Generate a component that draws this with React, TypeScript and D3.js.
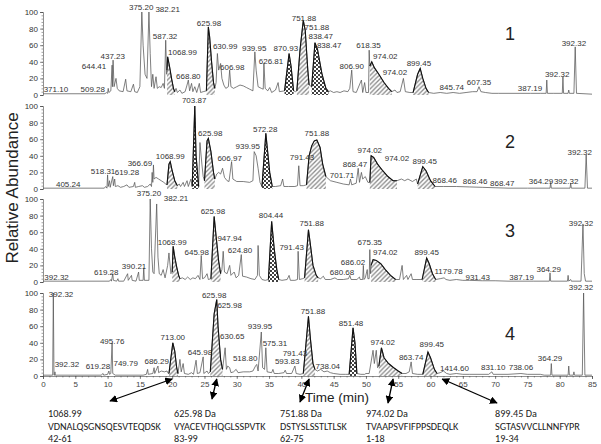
import * as d3 from "d3";
import { useEffect, useRef } from "react";

type Pt = [number, number];

// chromatogram traces, [time (min), relative abundance %]
const run1: Pt[] = [
  [0, 1.5], [9.6, 1.5], [9.8, 3], [10.0, 2], [10.1, 8], [10.2, 3], [10.5, 5], [10.7, 36], [10.75, 10], [10.85, 42], [11.0, 10],
  [11.3, 20], [11.5, 8], [11.8, 5], [12.4, 4], [12.8, 19], [13.0, 5], [13.6, 4], [14.0, 13], [14.2, 4], [14.6, 3], [15.0, 10],
  [15.3, 100], [15.5, 60], [15.8, 25], [16.1, 20], [16.4, 100], [16.6, 50], [16.8, 10], [17.0, 25], [17.2, 8], [17.5, 22],
  [17.7, 8], [18.0, 10], [18.3, 9], [18.6, 14], [18.8, 8], [19.0, 66], [19.15, 25], [19.2, 30], [19.3, 46], [19.6, 34],
  [19.9, 20], [20.2, 8], [20.4, 4], [20.6, 8], [20.8, 3], [21.2, 6], [21.5, 2], [22.0, 4], [22.3, 12], [22.5, 18], [22.7, 5],
  [23.0, 14], [23.2, 4], [23.5, 10], [23.8, 3], [24.2, 14], [24.4, 3], [24.8, 4], [25.3, 5], [25.6, 82], [25.8, 70], [26.1, 40],
  [26.4, 15], [26.6, 8], [26.8, 15], [27.0, 50], [27.2, 30], [27.5, 38], [27.7, 20], [28.0, 12], [28.3, 8], [28.7, 10],
  [28.9, 30], [29.1, 10], [29.5, 8], [30.0, 10], [30.5, 12], [31.0, 11], [31.5, 9], [32.0, 7], [32.5, 5], [32.8, 52], [33.0, 30],
  [33.3, 10], [33.8, 8], [34.1, 7], [34.2, 38], [34.4, 8], [34.8, 5], [35.1, 9], [35.4, 3], [36.0, 6], [36.4, 15], [36.6, 4],
  [37.4, 5], [38.1, 50], [38.4, 35], [38.8, 5], [39.1, 4], [39.3, 5], [39.8, 55], [40.3, 90], [40.6, 78], [41.0, 30], [41.2, 12],
  [41.6, 10], [42.1, 63], [42.5, 55], [43.2, 25], [43.8, 8], [44.2, 4], [44.5, 5], [45, 3], [45.5, 4], [46, 3], [46.6, 5],
  [47.2, 4], [47.5, 8], [47.8, 30], [48.0, 4], [48.5, 3], [49.3, 18], [49.5, 3], [49.8, 15], [50.0, 3], [50.4, 3], [50.5, 54],
  [50.6, 35], [50.9, 40], [51.3, 33], [52.0, 25], [52.8, 15], [53.5, 8], [54.0, 4], [54.5, 6], [54.8, 3], [55.3, 4], [55.8, 20],
  [56.1, 4], [56.8, 3], [57.3, 3], [58.0, 25], [58.4, 32], [58.8, 20], [59.3, 8], [59.7, 3], [60.5, 2], [61.5, 3], [62.5, 2],
  [63.5, 3], [64.5, 2], [65.5, 3], [66.5, 4], [67.2, 4], [67.5, 10], [67.8, 4], [68.5, 3], [69.5, 2], [70.5, 2], [72, 2],
  [74, 2], [75.5, 2], [77.0, 2], [77.9, 2], [78.0, 18], [78.1, 2], [79.0, 2], [80.4, 2], [80.5, 22], [80.6, 2], [81.3, 2],
  [81.4, 6], [81.5, 2], [82.2, 2], [82.4, 58], [82.6, 2], [85, 1],
];
const run2: Pt[] = [
  [0, 1], [9.5, 1], [9.7, 3], [9.9, 1], [10.0, 17], [10.1, 3], [10.3, 10], [10.4, 2], [10.8, 15], [10.9, 4], [11.1, 12],
  [11.2, 3], [11.6, 4], [12.0, 2], [12.5, 3], [13.0, 5], [13.3, 2], [14.0, 3], [14.2, 8], [14.3, 2], [14.8, 3], [15.4, 4],
  [15.7, 2], [16.2, 3], [16.6, 6], [16.8, 3], [16.9, 20], [17.0, 8], [17.1, 29], [17.2, 12], [17.5, 14], [17.9, 12], [18.3, 10],
  [18.7, 8], [19.0, 6], [19.2, 5], [19.5, 30], [19.7, 33], [20.0, 22], [20.4, 10], [20.8, 4], [21.1, 6], [21.3, 3], [21.7, 8],
  [21.9, 3], [22.3, 10], [22.5, 3], [22.9, 12], [23.1, 3], [23.5, 100], [23.7, 40], [24.1, 3], [24.3, 56], [24.6, 30],
  [24.8, 15], [25.0, 10], [25.4, 58], [25.6, 61], [26.0, 45], [26.4, 20], [26.6, 12], [26.9, 18], [27.2, 20], [27.5, 18],
  [27.8, 25], [28.1, 14], [28.5, 10], [28.8, 9], [29.2, 33], [29.4, 12], [30, 9], [31, 9], [32, 8], [32.5, 10], [32.7, 45],
  [33.0, 40], [33.3, 25], [33.6, 8], [33.9, 3], [34.5, 67], [35.1, 20], [35.5, 3], [36, 3], [36.8, 4], [37.1, 12], [37.3, 3],
  [38, 3], [39, 3], [39.4, 4], [39.6, 28], [39.8, 4], [40.3, 4], [40.8, 5], [41.2, 40], [41.6, 52], [42.0, 58], [42.4, 59],
  [42.9, 50], [43.3, 30], [43.8, 15], [44.5, 10], [45.5, 8], [46.5, 6], [47.4, 5], [47.6, 12], [47.8, 5], [48.5, 7], [48.8, 25],
  [49.0, 8], [49.3, 20], [49.5, 12], [49.9, 15], [50.3, 8], [50.6, 8], [50.8, 40], [51.2, 38], [51.8, 30], [52.6, 22],
  [53.4, 15], [54.2, 10], [54.8, 10], [55.5, 12], [56.0, 10], [56.5, 12], [57.2, 9], [57.8, 12], [58.0, 6], [58.8, 27],
  [59.3, 22], [60.0, 10], [60.7, 3], [62, 3], [64, 3], [66, 2.5], [68, 2], [70, 1.5], [72, 1], [75, 1], [78.5, 1], [78.6, 8],
  [78.7, 1], [81.6, 1], [81.7, 7], [81.8, 1], [83.9, 1], [84.1, 41], [84.3, 1], [85, 1],
];
const run3: Pt[] = [
  [0, 1], [10.3, 1], [10.5, 3], [10.6, 1], [10.8, 10], [10.9, 2], [11.4, 1], [11.6, 4], [11.7, 1], [12.5, 1], [13.1, 10],
  [13.2, 2], [13.7, 8], [13.8, 2], [14.4, 1], [14.8, 12], [14.9, 2], [15.5, 2], [15.6, 17], [15.7, 2], [16.4, 2], [16.6, 100],
  [16.8, 40], [17.0, 12], [17.2, 10], [17.6, 94], [17.8, 30], [18.0, 10], [18.3, 8], [18.6, 15], [18.9, 5], [19.3, 20],
  [19.5, 35], [19.8, 10], [20.0, 12], [20.15, 43], [20.4, 30], [20.7, 18], [21.0, 8], [21.2, 4], [21.6, 5], [22.0, 3],
  [22.4, 6], [22.8, 3], [23.2, 5], [23.6, 4], [24.0, 8], [24.3, 3], [24.5, 32], [24.7, 4], [25.0, 5], [25.4, 10], [25.6, 3],
  [26.0, 4], [26.5, 79], [26.8, 55], [27.2, 25], [27.5, 10], [27.7, 15], [27.9, 37], [28.1, 12], [28.5, 10], [28.9, 20],
  [29.1, 8], [29.6, 12], [29.9, 5], [30.3, 8], [30.7, 33], [30.9, 7], [31.5, 6], [32.2, 4], [32.8, 3], [33.2, 8], [33.3, 44],
  [33.5, 8], [33.9, 3], [34.4, 2], [34.9, 3], [35.4, 73], [35.8, 40], [36.2, 15], [36.5, 3], [37.0, 2], [37.8, 3], [38.1, 8],
  [38.3, 2], [39.0, 2], [39.4, 3], [39.5, 37], [39.7, 3], [40.2, 4], [40.5, 5], [41.1, 63], [41.4, 45], [41.8, 20], [42.3, 8],
  [42.6, 5], [43, 4], [43.4, 7], [43.7, 3], [44.5, 3], [45.2, 5], [45.6, 3], [46.5, 3], [47.3, 4], [47.5, 8], [47.7, 3],
  [48.6, 3], [49.0, 6], [49.1, 3], [49.5, 3], [49.6, 20], [49.7, 3], [49.9, 5], [50.2, 15], [50.3, 4], [50.5, 4], [50.6, 39],
  [50.7, 10], [50.8, 20], [51.1, 27], [51.6, 26], [52.3, 22], [53.0, 15], [53.8, 8], [54.6, 3], [55.2, 3], [55.6, 20],
  [55.8, 3], [56.3, 8], [56.5, 3], [57.0, 10], [57.2, 3], [57.9, 3], [58.7, 3], [59.4, 29], [59.8, 22], [60.3, 10], [60.8, 3],
  [61.5, 4], [62.1, 5], [62.4, 3], [63, 2], [64, 3], [65, 2], [66, 2], [68, 1.5], [70, 1.5], [72, 1], [76, 1], [78.4, 1],
  [78.5, 11], [78.6, 1], [81.2, 1], [81.3, 8], [81.4, 1], [81.7, 3], [81.8, 1], [83.3, 1], [83.6, 70], [83.8, 10], [84.0, 1],
  [85, 1],
];
const run4: Pt[] = [
  [0, 1], [1.5, 1], [1.6, 100], [1.7, 1], [1.8, 1], [1.85, 5], [1.9, 1], [9.0, 1], [9.3, 3], [9.4, 1], [10.0, 2], [10.2, 6],
  [10.3, 2], [10.5, 3], [10.7, 40], [10.8, 3], [11.2, 1], [15.5, 1], [16.0, 2], [16.2, 8], [16.3, 2], [17.0, 3], [17.2, 10],
  [17.3, 3], [17.8, 12], [17.9, 4], [18.3, 6], [18.8, 5], [19.2, 6], [19.4, 3], [19.5, 3], [20.1, 40], [20.4, 30], [20.7, 10],
  [20.9, 3], [21.2, 20], [21.4, 5], [21.7, 15], [21.9, 3], [22.5, 2], [23.0, 4], [23.3, 2], [23.7, 19], [23.9, 3], [24.3, 4],
  [24.8, 23], [24.9, 3], [25.4, 6], [25.6, 3], [25.9, 5], [26.5, 75], [26.9, 92], [27.1, 60], [27.5, 20], [27.8, 8], [28.2, 34],
  [28.4, 8], [28.6, 12], [28.9, 10], [29.1, 4], [29.5, 5], [29.9, 8], [30.2, 4], [31, 5], [32, 5], [32.5, 6], [32.9, 12],
  [33.1, 14], [33.3, 6], [33.8, 53], [34.0, 10], [34.3, 8], [34.5, 34], [34.7, 5], [35.4, 4], [35.6, 8], [35.8, 3], [36.5, 3],
  [37.3, 4], [37.5, 7], [37.7, 3], [38.5, 3], [39.0, 12], [39.2, 3], [39.8, 2], [40.3, 3], [41.1, 72], [41.4, 45], [41.8, 15],
  [42.1, 8], [42.5, 6], [43, 8], [43.5, 5], [44, 6], [44.5, 4], [45, 3], [46, 2], [46.8, 2], [47.4, 2], [48.0, 58], [48.3, 40],
  [48.6, 3], [49.2, 2], [49.8, 2], [50, 3], [50.5, 3], [51.1, 31], [51.3, 15], [51.6, 31], [51.8, 10], [52.0, 12], [52.4, 34],
  [52.8, 22], [53.5, 15], [54.3, 10], [55.0, 6], [55.6, 3], [56.2, 3], [56.7, 5], [57.0, 17], [57.2, 3], [58.0, 2], [58.8, 2],
  [59.6, 29], [60.0, 22], [60.6, 8], [61.0, 3], [61.5, 4], [62, 6], [62.5, 3], [63, 2], [64, 3], [65, 2], [66, 2], [69, 2],
  [69.5, 5], [69.7, 2], [72, 2], [74, 3], [75, 2], [77, 2], [77.6, 1], [78.6, 1], [78.7, 15], [78.8, 1], [81.3, 1], [81.4, 12],
  [81.5, 1], [82.1, 1], [82.2, 5], [82.3, 1], [83.5, 1], [83.7, 100], [83.9, 1], [85, 1],
];

// shaded peptide peaks: [from min, to min, fill]
const run1Shaded: [number, number, string][] = [
  [19.2, 20.4, "hatch"], [25.3, 26.6, "hatch"], [37.4, 38.8, "dots"], [39.3, 41.2, "hatch"], [41.6, 44.2, "dots"],
  [50.6, 54.0, "hatch"], [57.3, 59.7, "hatch"],
];
const run2Shaded: [number, number, string][] = [
  [19.2, 20.8, "hatch"], [23.1, 24.1, "dots"], [25.0, 26.6, "hatch"], [33.9, 35.5, "dots"], [40.8, 43.8, "hatch"],
  [50.6, 54.8, "hatch"], [58.0, 60.7, "hatch"],
];
const run3Shaded: [number, number, string][] = [
  [20.0, 21.2, "hatch"], [26.0, 27.5, "hatch"], [34.9, 36.5, "dots"], [40.5, 42.6, "hatch"], [50.8, 54.6, "hatch"],
  [58.7, 60.8, "hatch"],
];
const run4Shaded: [number, number, string][] = [
  [19.5, 20.9, "hatch"], [25.9, 27.8, "hatch"], [40.3, 42.1, "hatch"], [47.4, 48.6, "dots"], [52.0, 55.6, "hatch"],
  [58.8, 61.0, "hatch"],
];

// peak m/z labels: [text, time, abundance]
const run1Labels: [string, number, number][] = [
  ["371.10", 2.0, 3.6], ["509.28", 7.7, 3.6], ["644.41", 7.9, 31], ["437.23", 10.8, 43], ["375.20", 15.2, 102],
  ["382.21", 19.3, 100], ["587.32", 18.9, 67], ["1068.99", 21.6, 48], ["668.80", 22.5, 19], ["625.98", 25.7, 83],
  ["630.99", 28.2, 55], ["606.98", 29.3, 30], ["939.95", 32.7, 53], ["626.81", 35.3, 37], ["870.93", 37.6, 53],
  ["751.88", 40.4, 89], ["751.88", 42.4, 78], ["838.47", 43.0, 68], ["838.47", 44.3, 57], ["618.35", 50.4, 57],
  ["974.02", 53.0, 43], ["806.90", 47.8, 31], ["974.02", 54.5, 24], ["899.45", 58.2, 35], ["845.74", 63.3, 6],
  ["607.35", 67.5, 12], ["387.19", 75.4, 5], ["392.32", 79.6, 22], ["392.32", 82.2, 59],
];
const run2Labels: [string, number, number][] = [
  ["703.87", 23.4, 104], ["405.24", 3.9, 2.4], ["518.31", 9.3, 18], ["619.28", 13.0, 17], ["366.69", 15.0, 28],
  ["1068.99", 19.7, 36], ["625.98", 25.9, 64], ["606.97", 28.9, 34], ["939.95", 31.7, 48], ["572.28", 34.4, 69],
  ["791.43", 40.1, 35], ["751.88", 42.4, 64], ["701.71", 46.3, 13], ["868.47", 48.3, 27], ["974.02", 50.6, 43],
  ["974.02", 54.8, 34], ["899.45", 59.1, 30], ["868.46", 62.2, 7], ["868.46", 66.9, 6], ["868.47", 71.1, 4],
  ["364.29", 77.1, 6], ["392.32", 81.0, 6], ["392.32", 83.1, 41],
];
const run3Labels: [string, number, number][] = [
  ["375.20", 16.4, 104], ["382.21", 20.6, 98], ["392.32", 2.1, 2.4], ["619.28", 9.8, 8.5], ["390.21", 14.1, 16],
  ["1068.99", 20.0, 45], ["645.98", 23.8, 32], ["625.98", 26.3, 82], ["947.94", 28.9, 49], ["624.80", 30.5, 35],
  ["804.44", 35.3, 77], ["791.43", 38.5, 39], ["751.88", 41.6, 68], ["675.35", 50.6, 44], ["974.02", 53.0, 32],
  ["686.02", 48.0, 21], ["680.68", 46.3, 9], ["899.45", 59.4, 32], ["1179.78", 62.8, 10], ["931.43", 67.3, 2.4],
  ["387.19", 74.1, 2.4], ["364.29", 78.3, 12], ["392.32", 83.3, 68],
];
const run4Labels: [string, number, number][] = [
  ["392.32", 83.3, 104], ["625.98", 26.5, 94], ["392.32", 2.8, 95], ["392.32", 3.7, 11], ["619.28", 8.5, 8.4],
  ["495.76", 10.7, 39], ["749.79", 12.8, 12], ["686.29", 17.6, 14], ["713.00", 20.1, 43], ["645.98", 24.3, 25],
  ["625.98", 28.9, 82], ["630.65", 29.3, 45], ["518.80", 31.3, 18], ["939.95", 33.6, 57], ["575.31", 35.9, 36],
  ["593.83", 37.8, 14], ["791.43", 39.0, 24], ["751.88", 41.8, 75], ["738.04", 44.1, 8.4], ["851.48", 47.7, 60],
  ["974.02", 52.6, 37], ["863.74", 57.0, 19], ["899.45", 60.2, 35], ["1414.60", 63.7, 6], ["831.10", 69.7, 7],
  ["738.06", 74.0, 7], ["364.29", 78.5, 18],
];

const panelNames = ["1", "2", "3", "4"];
const yTicks = [0, 20, 40, 60, 80, 100];
const xTicks = [0, 5, 10, 15, 20, 25, 30, 35, 40, 45, 50, 55, 60, 65, 70, 75, 80, 85];

// peptides pointed at under the time axis
const peptideMass = ["1068.99", "625.98 Da", "751.88 Da", "974.02 Da", "899.45 Da"];
const peptideSeq = ["VDNALQSGNSQESVTEQDSK", "VYACEVTHQGLSSPVTK", "DSTYSLSSTLTLSK", "TVAAPSVFIFPPSDEQLK", "SGTASVVCLLNNFYPR"];
const peptideRes = ["42-61", "83-99", "62-75", "1-18", "19-34"];
const peptideTime = [20.0, 26.9, 41.2, 54.2, 61.8];

function Chromatograms() {
  const ref = useRef<SVGSVGElement | null>(null);

  useEffect(() => {
    const svg = d3.select(ref.current!);
    svg.selectAll("*").remove();

    const font = "'Liberation Sans', Arial, sans-serif";
    const x = d3.scaleLinear().domain([0, 85]).range([43, 592]);

    const defs = svg.append("defs");
    const hatch = defs.append("pattern").attr("id", "hatch").attr("patternUnits", "userSpaceOnUse")
      .attr("width", 4.5).attr("height", 4.5);
    hatch.append("rect").attr("width", 4.5).attr("height", 4.5).attr("fill", "#fff");
    hatch.append("path").attr("d", "M-1,1 L1,-1 M0,4.5 L4.5,0 M3.5,5.5 L5.5,3.5")
      .attr("stroke", "#8a8a8a").attr("stroke-width", 1.3);
    const dots = defs.append("pattern").attr("id", "dots").attr("patternUnits", "userSpaceOnUse")
      .attr("width", 4).attr("height", 4);
    dots.append("rect").attr("width", 4).attr("height", 4).attr("fill", "#fff");
    dots.append("circle").attr("cx", 1).attr("cy", 1).attr("r", 1).attr("fill", "#000");
    dots.append("circle").attr("cx", 3).attr("cy", 3).attr("r", 1).attr("fill", "#000");
    defs.append("marker").attr("id", "arrow").attr("viewBox", "0 0 10 10").attr("refX", 9).attr("refY", 5)
      .attr("markerWidth", 6).attr("markerHeight", 6).attr("orient", "auto-start-reverse")
      .append("path").attr("d", "M0,0 L10,5 L0,10 Z").attr("fill", "#000");

    const runs = [run1, run2, run3, run4];
    const shaded = [run1Shaded, run2Shaded, run3Shaded, run4Shaded];
    const labels = [run1Labels, run2Labels, run3Labels, run4Labels];
    const bottoms = [95, 189, 282, 376];
    const numberY = [40, 148, 237, 340];

    runs.forEach((run, i) => {
      const y = d3.scaleLinear().domain([0, 100]).range([bottoms[i], bottoms[i] - 83]);
      const g = svg.append("g");

      // y axis
      const ax = g.append("g").attr("transform", "translate(43,0)")
        .call(d3.axisLeft(y).tickValues(yTicks).tickSize(3).tickPadding(2));
      ax.selectAll("text").attr("font-family", font).attr("font-size", 8).attr("fill", "#333");
      ax.selectAll("line,path").attr("stroke", "#444").attr("stroke-width", 0.6);
      const minor = g.append("g").attr("transform", "translate(43,0)")
        .call(d3.axisLeft(y).tickValues(d3.range(0, 101, 4)).tickSize(1.5).tickFormat(() => ""));
      minor.select(".domain").remove();
      minor.selectAll("line").attr("stroke", "#444").attr("stroke-width", 0.5);

      const area = d3.area<Pt>().x(d => x(d[0])).y0(y(0)).y1(d => y(d[1]));
      const line = d3.line<Pt>().x(d => x(d[0])).y(d => y(d[1]));

      shaded[i].forEach(([t0, t1, fill]) => {
        const pts = run.filter(d => d[0] >= t0 && d[0] <= t1);
        g.append("path").attr("d", area(pts)).attr("fill", `url(#${fill})`);
      });

      g.append("path").attr("d", line(run)).attr("fill", "none")
        .attr("stroke", "#555").attr("stroke-width", 0.75).attr("stroke-linejoin", "round");

      shaded[i].forEach(([t0, t1]) => {
        const pts = run.filter(d => d[0] >= t0 && d[0] <= t1);
        g.append("path").attr("d", line(pts)).attr("fill", "none")
          .attr("stroke", "#111").attr("stroke-width", 1.1);
      });

      g.append("g").selectAll("text").data(labels[i]).enter().append("text")
        .attr("x", d => x(d[1])).attr("y", d => y(d[2]))
        .attr("text-anchor", "middle").attr("font-family", font).attr("font-size", 8).attr("fill", "#333")
        .text(d => d[0]);

      g.append("text").attr("x", 510).attr("y", numberY[i]).attr("text-anchor", "middle")
        .attr("font-family", font).attr("font-size", 18).attr("fill", "#222").text(panelNames[i]);

      if (i === 3) {
        const xa = g.append("g").attr("transform", `translate(0,${bottoms[i]})`)
          .call(d3.axisBottom(x).tickValues(xTicks).tickSize(3).tickPadding(2));
        xa.selectAll("text").attr("font-family", font).attr("font-size", 8).attr("fill", "#444");
        xa.selectAll("line,path").attr("stroke", "#444").attr("stroke-width", 0.6);
        const xm = g.append("g").attr("transform", `translate(0,${bottoms[i]})`)
          .call(d3.axisBottom(x).tickValues(d3.range(0, 86, 1)).tickSize(1.5).tickFormat(() => ""));
        xm.select(".domain").remove();
        xm.selectAll("line").attr("stroke", "#444").attr("stroke-width", 0.5);
      }
    });

    svg.append("text").attr("transform", "translate(18,188) rotate(-90)").attr("text-anchor", "middle")
      .attr("font-family", font).attr("font-size", 17).attr("fill", "#222").text("Relative Abundance");
    svg.append("text").attr("x", 337).attr("y", 402).attr("text-anchor", "middle")
      .attr("font-family", font).attr("font-size", 13.5).attr("fill", "#222").text("Time (min)");

    // peptide annotations
    const colX = [48, 174, 280, 366, 495];
    const tails: [number, number][] = [[110, 401], [212, 399], [300, 402], [388, 403], [497, 403]];
    const pf = "Carlito, Calibri, Lato, sans-serif";
    peptideMass.forEach((m, i) => {
      svg.append("line").attr("x1", tails[i][0]).attr("y1", tails[i][1])
        .attr("x2", x(peptideTime[i])).attr("y2", 379)
        .attr("stroke", "#000").attr("stroke-width", 1.3)
        .attr("marker-start", "url(#arrow)").attr("marker-end", "url(#arrow)");
      [m, peptideSeq[i], peptideRes[i]].forEach((s, r) => {
        svg.append("text").attr("x", colX[i]).attr("y", 417 + r * 12.5)
          .attr("font-family", pf).attr("font-size", 10.2).attr("fill", "#222").text(s);
      });
    });
  }, []);

  return <svg ref={ref} width={601} height={444} style={{ position: "absolute", left: 0, top: 0, background: "#fff" }} />;
}

export default function App() {
  return <Chromatograms />;
}
